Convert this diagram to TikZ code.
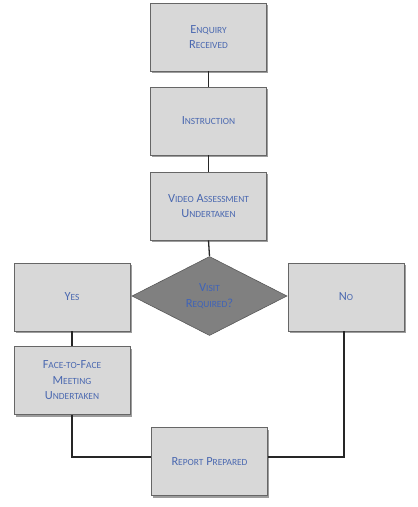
\documentclass[tikz,border=0pt]{standalone}
\usepackage{fontspec}
\setmainfont{Carlito}
\usetikzlibrary{shapes.geometric,shadows}
\newcommand\smc[1]{{\fontsize{9.4}{15}\selectfont #1}}
\definecolor{txtblue}{HTML}{4A68B0}
\definecolor{diatxt}{HTML}{3F63B8}
\definecolor{boxgray}{HTML}{D8D8D8}
\definecolor{diagray}{HTML}{808080}
\begin{document}
\begin{tikzpicture}[x=1pt,y=-1pt,
  box/.style={draw=black!60, line width=0.6pt, fill=boxgray, minimum width=116pt,
    minimum height=68pt, inner sep=0pt, align=center, text=txtblue,
    font=\fontsize{12.4}{15.5}\selectfont,
    drop shadow={shadow xshift=1.6pt, shadow yshift=-2.2pt, fill=black!70, opacity=0.55}},
  decision/.style={diamond, draw=black!65, line width=0.6pt, fill=diagray, minimum width=155pt,
    minimum height=79pt, inner sep=0pt, align=center, text=diatxt,
    font=\fontsize{12.4}{15.5}\selectfont},
  link/.style={line width=1.3pt, draw=black!85}]
\useasboundingbox (0,0) rectangle (418,507);
\node[box] (enq) at (208.5,37) {E\smc{NQUIRY}\\R\smc{ECEIVED}};
\node[box] (ins) at (208.5,121) {I\smc{NSTRUCTION}};
\node[box] (vid) at (208.5,206) {V\smc{IDEO} A\smc{SSESSMENT}\\U\smc{NDERTAKEN}};
\node[decision] (vis) at (209.5,296) {V\smc{ISIT}\\R\smc{EQUIRED}?};
\node[box] (yes) at (72,297) {Y\smc{ES}};
\node[box] (no) at (346,297) {N\smc{O}};
\node[box] (f2f) at (72,380.5) {F\smc{ACE-TO}-F\smc{ACE}\\M\smc{EETING}\\U\smc{NDERTAKEN}};
\node[box] (rep) at (209.5,461.5) {R\smc{EPORT} P\smc{REPARED}};
\draw[link] (enq.south) -- (ins.north);
\draw[link] (ins.south) -- (vid.north);
\draw[link] (vid.south) -- (vis.north);
\draw[link] (yes.south) -- (f2f.north);
\draw[link] (f2f.south) |- ([yshift=4.5pt]rep.west);
\draw[link] ([yshift=4.5pt]rep.east) -| ([xshift=-2pt]no.south);
\end{tikzpicture}
\end{document}
